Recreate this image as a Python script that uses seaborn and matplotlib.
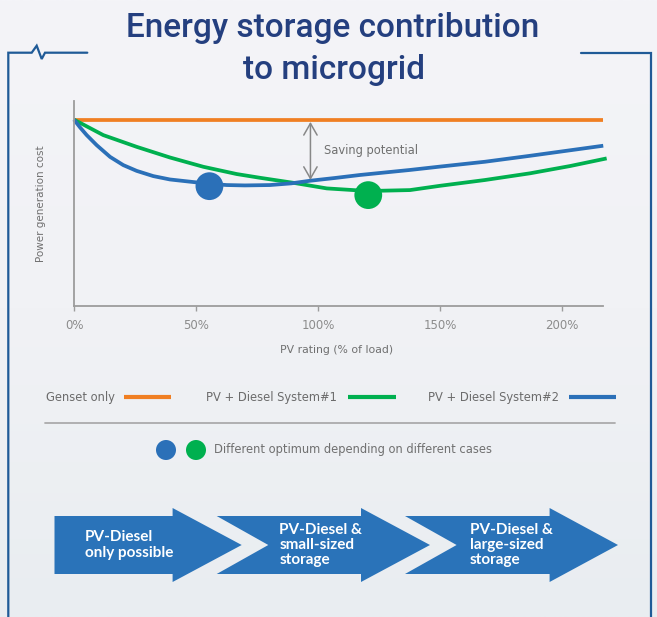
import numpy as np
import pandas as pd
import matplotlib
matplotlib.use("Agg")
import matplotlib.pyplot as plt
import seaborn as sns
from matplotlib.patches import Polygon, Circle
from matplotlib.colors import LinearSegmentedColormap

# ---------------- data ----------------
series_names = ["Genset only", "PV + Diesel System#1", "PV + Diesel System#2"]
pv_genset = [0, 216.8]
cost_genset = [100, 100]
pv_sys1 = [0, 12, 25.7, 39.3, 53, 66.7, 76.2, 89.9, 103.6, 120.5, 137.7, 150,
           168.4, 186.9, 203.3, 218.3]
cost_sys1 = [100, 91.7, 85.4, 79.7, 74.7, 70.8, 68.8, 66.1, 63.1, 61.7, 62.2, 64.5,
             67.6, 71.2, 75.1, 79.2]
pv_sys2 = [0, 2.5, 5.2, 9.3, 14.8, 20.2, 25.7, 32.5, 39.3, 46.2, 55.3, 62.6, 70,
           80.3, 89, 96.7, 107, 117.2, 137.7, 150, 168.4, 186.9, 216.9]
cost_sys2 = [100, 95.8, 91.7, 86.3, 80.0, 75.6, 72.5, 69.7, 67.9, 66.9, 65.6, 64.9, 64.7,
             64.9, 65.8, 67.2, 68.7, 70.3, 73.0, 74.8, 77.4, 80.6, 86.0]
opt_pv = [55.5, 120.6]
opt_cost = [64.3, 59.5]
opt_series = ["PV + Diesel System#2", "PV + Diesel System#1"]
saving_top = 98.8
saving_bottom = 67.6
saving_pv = 96.9
x_ticks = [0, 50, 100, 150, 200]
x_tick_labels = ["0%", "50%", "100%", "150%", "200%"]
stage_labels = ["PV-Diesel\nonly possible",
                "PV-Diesel &\nsmall-sized\nstorage",
                "PV-Diesel &\nlarge-sized\nstorage"]
title_lines = ["Energy storage contribution", "to microgrid"]
optimum_note = "Different optimum depending on different cases"

colors = {"Genset only": "#f07f22",
          "PV + Diesel System#1": "#00b04f",
          "PV + Diesel System#2": "#2b70b8"}
ARROW_BLUE = "#2a73b9"
FRAME_BLUE = "#1f5a97"
TITLE_BLUE = "#243f7f"

sns.set_theme(style="white")
plt.rcParams['font.family'] = ['DejaVu Sans']

W, H = 657, 617
fig = plt.figure(figsize=(W / 100, H / 100), dpi=100)

# ---------------- background / decoration layer (pixel coords) ----------------
bg = fig.add_axes([0, 0, 1, 1], zorder=0)
bg.set_xlim(0, W)
bg.set_ylim(H, 0)
bg.axis('off')
cmap = LinearSegmentedColormap.from_list('bg', ['#f4f4f8', '#f1f2f5', '#e9edf1'])
bg.imshow(np.linspace(0, 1, 256)[:, None], cmap=cmap, extent=[0, W, H, 0], aspect='auto')

# frame with zig-zag
bg.plot([87.3, 45, 41.7, 36.7, 31.7, 8.3, 8.3], [52.7, 52.7, 59, 45.7, 52.7, 52.7, 617],
        color=FRAME_BLUE, lw=1.6, solid_joinstyle='miter')
bg.plot([581, 651, 651], [52.7, 52.7, 617], color=FRAME_BLUE, lw=1.6, solid_joinstyle='miter')

# title
bg.text(333, 37, title_lines[0], ha='center', va='baseline', fontsize=24,
        color=TITLE_BLUE, family='Roboto', fontweight='medium')
bg.text(334, 79, title_lines[1], ha='center', va='baseline', fontsize=24,
        color=TITLE_BLUE, family='Roboto', fontweight='medium')

# legend row
leg_y = 397
leg_items = [(46, 123.5, 171), (206, 348, 396), (428, 569, 616)]
for name, (tx, l0, l1) in zip(series_names, leg_items):
    bg.text(tx, leg_y, name, va='center', ha='left', fontsize=8.3, color='#6b6b6b')
    bg.plot([l0, l1], [leg_y, leg_y], color=colors[name], lw=3, solid_capstyle='butt')
bg.plot([45, 615], [423, 423], color='#ababab', lw=1.3)

# optimum note
bg.add_patch(Circle((166, 450), 10, color=colors["PV + Diesel System#2"], lw=0))
bg.add_patch(Circle((196, 450), 10, color=colors["PV + Diesel System#1"], lw=0))
bg.text(214, 450, optimum_note, va='center', ha='left', fontsize=8.3, color='#707070')

# stage arrows
def chevron(x0, notch, head_base, tip, first=False):
    top, bot, htop, hbot, mid = 516, 574, 508, 582, 545
    pts = [(x0, top), (head_base, top), (head_base, htop), (tip, mid),
           (head_base, hbot), (head_base, bot), (x0, bot)]
    if not first:
        pts.append((x0 + notch, mid))
    return pts

arrow_geo = [(54.5, 0, 172.6, 241.7, True), (216.7, 51.6, 361, 430, False),
             (405, 51.6, 549.6, 618, False)]
text_x = [85, 279.3, 470]
text_ls = [1.2, 1.05, 1.05]
for (x0, notch, hb, tip, first), lbl, tx, ls in zip(arrow_geo, stage_labels, text_x, text_ls):
    bg.add_patch(Polygon(chevron(x0, notch, hb, tip, first), closed=True,
                         facecolor=ARROW_BLUE, edgecolor='none'))
    bg.text(tx, 545, lbl, ha='left', va='center', color='white', fontsize=11,
            family='Lato', fontweight='bold', linespacing=ls)

# ---------------- main chart ----------------
ax = fig.add_axes([74 / W, 1 - 306 / H, (603 - 74) / W, (306 - 101) / H], zorder=2)
ax.patch.set_alpha(0)

df = pd.concat([
    pd.DataFrame({"pv": pv_genset, "cost": cost_genset, "series": series_names[0]}),
    pd.DataFrame({"pv": pv_sys1, "cost": cost_sys1, "series": series_names[1]}),
    pd.DataFrame({"pv": pv_sys2, "cost": cost_sys2, "series": series_names[2]}),
], ignore_index=True)

sns.lineplot(data=df, x="pv", y="cost", hue="series", palette=colors,
             hue_order=series_names, estimator=None, sort=False,
             linewidth=2.7, legend=False, ax=ax)
for ln in ax.lines:
    ln.set_clip_on(False)
    ln.set_solid_capstyle('butt')
    ln.set_solid_joinstyle('round')

opt_df = pd.DataFrame({"pv": opt_pv, "cost": opt_cost, "series": opt_series})
sns.scatterplot(data=opt_df, x="pv", y="cost", hue="series", palette=colors,
                s=400, edgecolor='none', legend=False, ax=ax, zorder=5, clip_on=False)

ax.annotate('', xy=(saving_pv, saving_top), xytext=(saving_pv, saving_bottom),
            arrowprops=dict(arrowstyle='<->,head_length=0.7,head_width=0.4',
                            color='#888888', lw=1.1, shrinkA=0, shrinkB=0))
ax.text(102.5, 83.6, "Saving potential", va='center', ha='left', fontsize=8.3, color='#707070')

ax.set_xlim(0, 216.8)
ax.set_ylim(0, 110)
ax.set_xticks(x_ticks)
ax.set_xticklabels(x_tick_labels)
ax.set_yticks([])
sns.despine(ax=ax)
for s in ("left", "bottom"):
    ax.spines[s].set_color('#9c9c9c')
    ax.spines[s].set_linewidth(1.3)
ax.tick_params(axis='x', direction='out', length=3.5, width=1, color='#9c9c9c',
               labelsize=8.5, labelcolor='#8c8c8c', pad=6, bottom=True)

ax.set_xlabel("PV rating (% of load)", fontsize=7.8, color='#707070')
ax.xaxis.set_label_coords((337 - 74) / 529, (306 - 350) / 205)
ax.xaxis.label.set_verticalalignment('center')
ax.set_ylabel("Power generation cost", fontsize=7.5, color='#707070')
ax.yaxis.set_label_coords((41 - 74) / 529, (306 - 204) / 205)
ax.yaxis.label.set_verticalalignment('center')

fig.savefig("out.png", dpi=100)
